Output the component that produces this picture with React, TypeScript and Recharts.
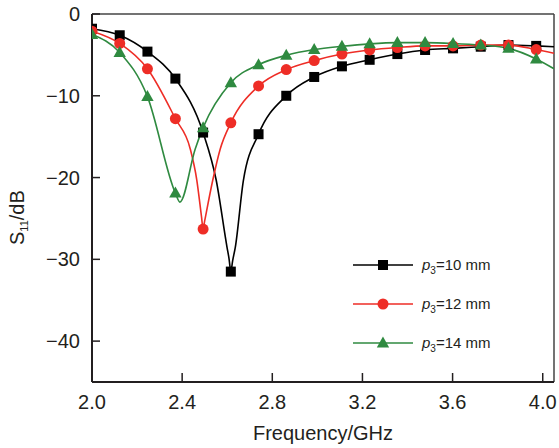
import { ComposedChart, Line, XAxis, YAxis, ReferenceLine, Legend } from 'recharts';

// marker positions (GHz) shared by all three curves
const markerFreqs = [2.0, 2.123, 2.246, 2.37, 2.493, 2.616, 2.739, 2.862, 2.986, 3.109, 3.232, 3.355, 3.478, 3.602, 3.725, 3.848, 3.971];
const p10Values = [-1.8, -2.6, -4.6, -7.9, -14.5, -31.5, -14.7, -10.0, -7.7, -6.4, -5.6, -4.9, -4.4, -4.2, -4.0, -3.8, -3.9];
const p12Values = [-2.1, -3.6, -6.7, -12.8, -26.3, -13.3, -8.8, -6.8, -5.7, -4.9, -4.4, -4.1, -3.9, -3.9, -3.8, -3.8, -4.35];
const p14Values = [-2.5, -4.7, -10.1, -21.9, -13.9, -8.4, -6.2, -5.05, -4.35, -3.95, -3.65, -3.5, -3.5, -3.6, -3.8, -4.2, -5.5];

// extra points of the measured curves between markers (sharp resonance dips, end of sweep)
const p10ExtraFreqs = [2.551, 2.599, 2.608, 2.624, 2.636, 2.672, 4.05];
const p10ExtraValues = [-20.3, -28.5, -29.9, -30.2, -28.5, -20.3, -4.0];
const p12ExtraFreqs = [2.436, 2.465, 2.486, 2.5, 2.536, 2.569, 4.05];
const p12ExtraValues = [-16.5, -20.3, -24.8, -25.3, -20.3, -16.5, -4.8];
const p14ExtraFreqs = [2.39, 2.458, 4.05];
const p14ExtraValues = [-23.0, -16.5, -6.7];

const xTicks = [2.0, 2.4, 2.8, 3.2, 3.6, 4.0];
const yTicks = [0, -10, -20, -30, -40];
const legendLabels = ['10', '12', '14'];

const FONT = '"Liberation Sans", Arial, sans-serif';
const TEXT = '#231f20';

type Pt = { f: number; s: number };

const toPoints = (fs: number[], vs: number[]): Pt[] => fs.map((f, i) => ({ f, s: vs[i] }));
const curve = (fs: number[], vs: number[], efs: number[], evs: number[]) =>
  [...toPoints(fs, vs), ...toPoints(efs, evs)].sort((a, b) => a.f - b.f);

const series = [
  { name: 'p10', color: '#000000', shape: 'square', markers: toPoints(markerFreqs, p10Values), line: curve(markerFreqs, p10Values, p10ExtraFreqs, p10ExtraValues) },
  { name: 'p12', color: '#ee2d26', shape: 'circle', markers: toPoints(markerFreqs, p12Values), line: curve(markerFreqs, p12Values, p12ExtraFreqs, p12ExtraValues) },
  { name: 'p14', color: '#2f8a40', shape: 'triangle', markers: toPoints(markerFreqs, p14Values), line: curve(markerFreqs, p14Values, p14ExtraFreqs, p14ExtraValues) },
];

function Marker({ shape, cx, cy, color }: { shape: string; cx: number; cy: number; color: string }) {
  if (shape === 'square') return <rect x={cx - 5} y={cy - 5} width={10} height={10} fill={color} />;
  if (shape === 'circle') return <circle cx={cx} cy={cy} r={5.5} fill={color} />;
  return <polygon points={`${cx},${cy - 6.5} ${cx - 6.2},${cy + 4.5} ${cx + 6.2},${cy + 4.5}`} fill={color} />;
}

function YLabel() {
  return (
    <text x={24} y={245} transform="rotate(-90 24 245)" fontFamily={FONT} fontSize={20} fill={TEXT}>
      S<tspan fontSize={11} dy={4}>11</tspan>
      <tspan dy={-4}>/dB</tspan>
    </text>
  );
}

function LegendBox() {
  return (
    <div style={{ fontFamily: FONT, color: TEXT }}>
      {series.map((s, i) => (
        <div key={s.name} style={{ display: 'flex', alignItems: 'center', height: 39 }}>
          <svg width={60} height={16} style={{ marginRight: 9 }}>
            <line x1={0} y1={8} x2={60} y2={8} stroke={s.color} strokeWidth={1.6} />
            <Marker shape={s.shape} cx={30} cy={8} color={s.color} />
          </svg>
          <span style={{ fontSize: 15 }}>
            <i>p</i>
            <span style={{ fontSize: 10, position: 'relative', top: 4 }}>3</span>={legendLabels[i]} mm
          </span>
        </div>
      ))}
    </div>
  );
}

export default function App() {
  return (
    <div style={{ position: 'absolute', left: 0, top: 0, width: 559, height: 448, background: '#fff' }}>
      <ComposedChart width={559} height={448} margin={{ top: 14, right: 5, bottom: 0, left: 0 }}>
        <XAxis
          type="number"
          dataKey="f"
          domain={[2.0, 4.05]}
          ticks={xTicks}
          allowDataOverflow
          height={66}
          tickFormatter={(v: number) => v.toFixed(1)}
          tick={{ fontFamily: FONT, fontSize: 20, fill: TEXT }}
          tickSize={-9}
          tickMargin={22}
          axisLine={{ stroke: TEXT, strokeWidth: 2 }}
          tickLine={{ stroke: TEXT, strokeWidth: 1.5 }}
          label={{ value: 'Frequency/GHz', position: 'insideBottom', offset: 8, fontFamily: FONT, fontSize: 20, fill: TEXT }}
        />
        <YAxis
          type="number"
          dataKey="s"
          domain={[-45, 0]}
          ticks={yTicks}
          allowDataOverflow
          width={92}
          tickFormatter={(v: number) => (v === 0 ? '0' : '\u2212' + Math.abs(v))}
          tick={{ fontFamily: FONT, fontSize: 20, fill: TEXT }}
          tickSize={-8}
          tickMargin={20}
          axisLine={{ stroke: TEXT, strokeWidth: 2 }}
          tickLine={{ stroke: TEXT, strokeWidth: 1.5 }}
          label={<YLabel />}
        />
        <ReferenceLine y={0} stroke="#444" strokeWidth={1.5} ifOverflow="visible" />
        <ReferenceLine x={4.05} stroke="#444" strokeWidth={1.5} ifOverflow="visible" />
        {series.map((s) => (
          <Line
            key={s.name + '-line'}
            data={s.line}
            dataKey="s"
            type="monotone"
            stroke={s.color}
            strokeWidth={1.6}
            dot={false}
            activeDot={false}
            isAnimationActive={false}
            legendType="none"
          />
        ))}
        {series.map((s) => (
          <Line
            key={s.name + '-markers'}
            data={s.markers}
            dataKey="s"
            stroke="none"
            dot={(p: any) => <Marker key={p.index} shape={s.shape} cx={p.cx} cy={p.cy} color={s.color} />}
            activeDot={false}
            isAnimationActive={false}
            legendType="none"
          />
        ))}
        <Legend
          layout="vertical"
          align="center"
          verticalAlign="middle"
          content={() => <LegendBox />}
          wrapperStyle={{ left: 353, top: 245, width: 180 }}
        />
      </ComposedChart>
    </div>
  );
}
